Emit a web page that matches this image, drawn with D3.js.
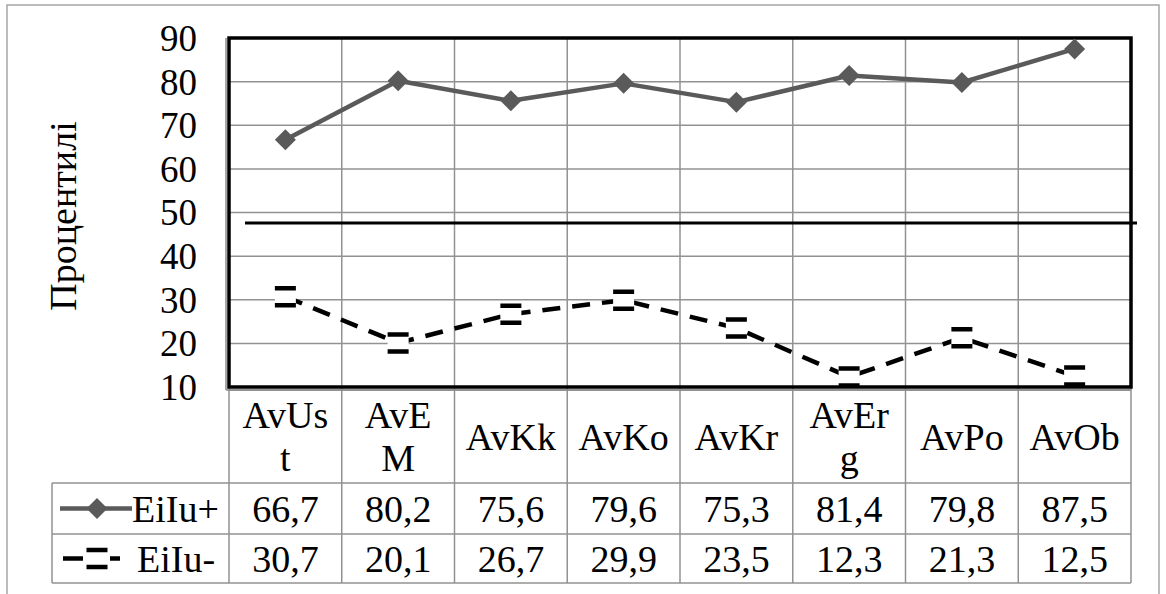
<!DOCTYPE html>
<html>
<head>
<meta charset="utf-8">
<script src="https://cdn.jsdelivr.net/npm/d3@7/dist/d3.min.js"></script>
<style>
  html, body { margin: 0; padding: 0; background: #fff; }
  svg { display: block; }
  text { font-family: "Liberation Serif", "Times New Roman", serif; fill: #000; }
</style>
</head>
<body>
<svg id="chart" width="1166" height="594"></svg>
<script>
// ---- data ----
const categories = ["AvUst", "AvEM", "AvKk", "AvKo", "AvKr", "AvErg", "AvPo", "AvOb"];
const seriesNames = ["EiIu+", "EiIu-"];
const eiIuPlus  = [66.7, 80.2, 75.6, 79.6, 75.3, 81.4, 79.8, 87.5];
const eiIuMinus = [30.7, 20.1, 26.7, 29.9, 23.5, 12.3, 21.3, 12.5];
const yTicks = [10, 20, 30, 40, 50, 60, 70, 80, 90];
const refValue = 47.6;
const yTitle = "Процентилі";

// ---- layout ----
const svg = d3.select("#chart");
const plot = { left: 229, right: 1131, top: 38, bottom: 387 };
const table = { left: 52, headerTop: 390, row1Top: 483, row2Top: 534, bottom: 583 };
const gridColor = "#929292";
const plusColor = "#5a5a5a";

const x = d3.scaleBand().domain(categories).range([plot.left, plot.right]);
const y = d3.scaleLinear().domain([10, 90]).range([plot.bottom, plot.top]);
const cx = c => x(c) + x.bandwidth() / 2;

// outer chart border
svg.append("rect").attr("x", 7).attr("y", 5).attr("width", 1152).attr("height", 620)
  .attr("fill", "none").attr("stroke", "#a6a6a6").attr("stroke-width", 1.5);

// horizontal gridlines
svg.append("g").selectAll("line").data(yTicks.filter(t => t > 10 && t < 90)).join("line")
  .attr("x1", plot.left).attr("x2", plot.right)
  .attr("y1", d => y(d)).attr("y2", d => y(d))
  .attr("stroke", gridColor).attr("stroke-width", 1.5);

// vertical gridlines (plot + table columns)
const bounds = categories.map(c => x(c)).concat([plot.right]);
svg.append("g").selectAll("line").data(bounds).join("line")
  .attr("x1", d => d).attr("x2", d => d)
  .attr("y1", plot.top).attr("y2", table.bottom)
  .attr("stroke", gridColor).attr("stroke-width", 1.5);

// table horizontal lines
[table.row1Top, table.row2Top, table.bottom].forEach(yy => {
  svg.append("line").attr("x1", table.left).attr("x2", plot.right)
    .attr("y1", yy).attr("y2", yy).attr("stroke", gridColor).attr("stroke-width", 1.5);
});
svg.append("line").attr("x1", plot.left).attr("x2", plot.right)
  .attr("y1", table.headerTop).attr("y2", table.headerTop)
  .attr("stroke", gridColor).attr("stroke-width", 1.5);
svg.append("line").attr("x1", table.left).attr("x2", table.left)
  .attr("y1", table.row1Top).attr("y2", table.bottom)
  .attr("stroke", gridColor).attr("stroke-width", 1.5);

// plot area border
svg.append("rect").attr("x", plot.left).attr("y", plot.top)
  .attr("width", plot.right - plot.left).attr("height", plot.bottom - plot.top)
  .attr("fill", "none").attr("stroke", "#000").attr("stroke-width", 3.5);
svg.append("line").attr("x1", plot.left - 3).attr("x2", plot.left - 3)
  .attr("y1", plot.top).attr("y2", plot.bottom + 3).attr("stroke", "#8a8a8a").attr("stroke-width", 1.5);
svg.append("line").attr("x1", plot.left - 3).attr("x2", plot.right)
  .attr("y1", plot.bottom + 3).attr("y2", plot.bottom + 3).attr("stroke", "#8a8a8a").attr("stroke-width", 1.5);

// reference line
svg.append("line").attr("x1", 245).attr("x2", 1137)
  .attr("y1", y(refValue)).attr("y2", y(refValue))
  .attr("stroke", "#000").attr("stroke-width", 3);

// y tick labels
svg.append("g").selectAll("text").data(yTicks).join("text")
  .attr("x", 197).attr("y", d => y(d)).attr("dy", "0.35em")
  .attr("text-anchor", "end").attr("font-size", 37).text(d => d);

// y title
svg.append("text").attr("transform", `translate(76,216) rotate(-90)`)
  .attr("text-anchor", "middle").attr("font-size", 38).text(yTitle);

// series lines
const line = d3.line().x((d, i) => cx(categories[i])).y(d => y(d));
svg.append("path").datum(eiIuPlus).attr("d", line)
  .attr("fill", "none").attr("stroke", plusColor).attr("stroke-width", 4.5).attr("stroke-linejoin", "round");
svg.append("path").datum(eiIuMinus).attr("d", line)
  .attr("fill", "none").attr("stroke", "#000").attr("stroke-width", 4.5)
  .attr("stroke-dasharray", "18 12");

// markers
function diamond(g, px, py) {
  const r = 10.5;
  g.append("path").attr("d", `M${px},${py - r}L${px + r},${py}L${px},${py + r}L${px - r},${py}Z`)
    .attr("fill", plusColor);
}
function dashSquare(g, px, py) {
  const s = 21;
  g.append("path").attr("d", `M${px - s / 2},${py - s / 2 + 2}h${s}v${s - 4}h${-s}Z`)
    .attr("fill", "#fff").attr("stroke", "#000").attr("stroke-width", 4.5)
    .attr("stroke-dasharray", `${s} ${s - 4}`);
}
const gPlus = svg.append("g");
eiIuPlus.forEach((v, i) => diamond(gPlus, cx(categories[i]), y(v)));
const gMinus = svg.append("g");
eiIuMinus.forEach((v, i) => dashSquare(gMinus, cx(categories[i]), y(v)));

// category header labels with wrapping
const fs = 38;
const headerMid = (table.headerTop + table.row1Top) / 2;
const maxW = 94;
categories.forEach(c => {
  const probe = svg.append("text").attr("font-size", fs).text(c);
  let lines = [];
  if (probe.node().getComputedTextLength() <= maxW) {
    lines = [c];
  } else {
    let cur = "";
    for (const ch of c) {
      probe.text(cur + ch);
      if (probe.node().getComputedTextLength() > maxW && cur) { lines.push(cur); cur = ch; }
      else cur += ch;
    }
    lines.push(cur);
  }
  probe.remove();
  const lh = 43;
  const t = svg.append("text").attr("font-size", fs).attr("text-anchor", "middle");
  lines.forEach((ln, k) => {
    t.append("tspan").attr("x", cx(c))
      .attr("y", headerMid + (k - (lines.length - 1) / 2) * lh).attr("dy", "0.35em").text(ln);
  });
});

// value rows
const fmt = v => v.toFixed(1).replace(".", ",");
const rowMid1 = (table.row1Top + table.row2Top) / 2;
const rowMid2 = (table.row2Top + table.bottom) / 2;
[[eiIuPlus, rowMid1], [eiIuMinus, rowMid2]].forEach(([vals, ym]) => {
  svg.append("g").selectAll("text").data(vals).join("text")
    .attr("x", (d, i) => cx(categories[i])).attr("y", ym).attr("dy", "0.35em")
    .attr("text-anchor", "middle").attr("font-size", fs).text(fmt);
});

// legend keys in table
const lg1 = svg.append("g");
lg1.append("line").attr("x1", 60).attr("x2", 132).attr("y1", rowMid1).attr("y2", rowMid1)
  .attr("stroke", plusColor).attr("stroke-width", 4.5);
diamond(lg1, 97, rowMid1);
lg1.append("text").attr("x", 132).attr("y", rowMid1).attr("dy", "0.35em").attr("font-size", fs).text(seriesNames[0]);

const lg2 = svg.append("g");
lg2.append("line").attr("x1", 63).attr("x2", 83).attr("y1", rowMid2).attr("y2", rowMid2)
  .attr("stroke", "#000").attr("stroke-width", 4.5);
lg2.append("line").attr("x1", 110).attr("x2", 120).attr("y1", rowMid2).attr("y2", rowMid2)
  .attr("stroke", "#000").attr("stroke-width", 4.5);
dashSquare(lg2, 97, rowMid2);
lg2.append("text").attr("x", 137).attr("y", rowMid2).attr("dy", "0.35em").attr("font-size", fs).text(seriesNames[1]);
</script>
</body>
</html>
